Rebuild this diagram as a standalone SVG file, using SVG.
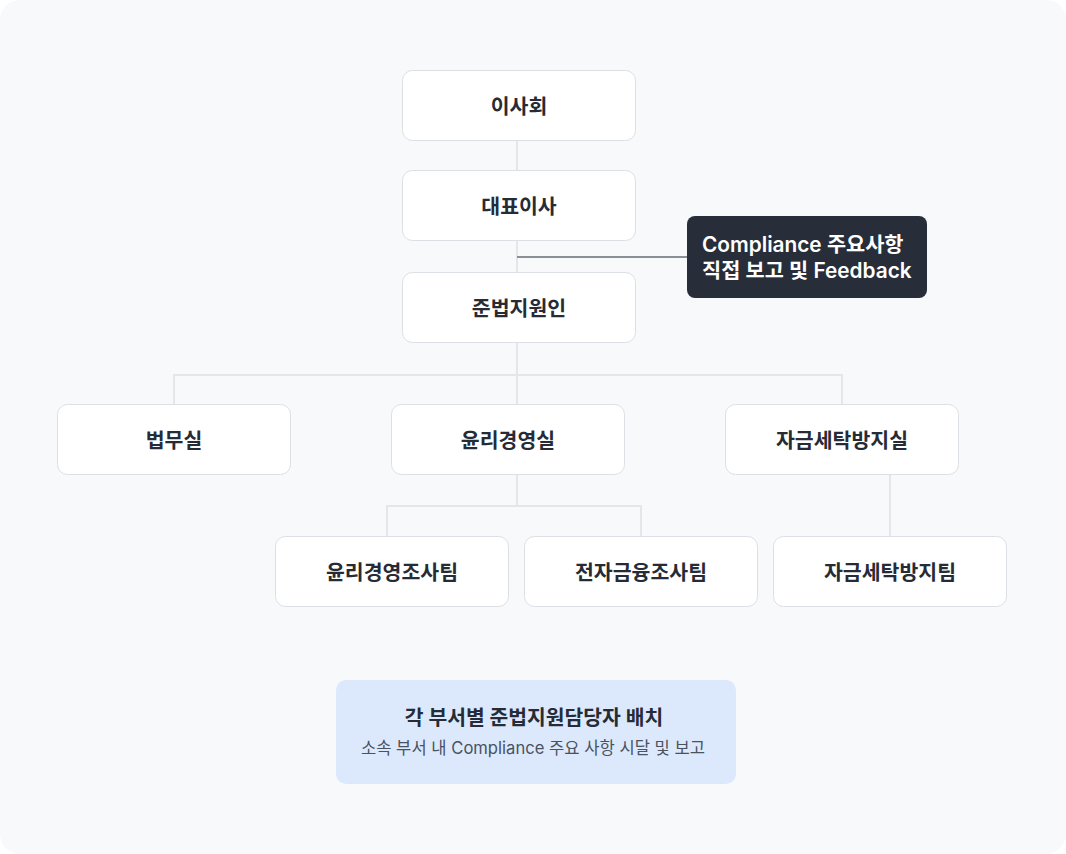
<svg xmlns="http://www.w3.org/2000/svg" width="1066" height="854" viewBox="0 0 1066 854">
<style>
.bg{fill:#f8f9fb}
.node rect{fill:#ffffff;stroke:#dcdfe4;stroke-width:1}
.node text{font-family:"Inter","Noto Sans CJK KR",sans-serif;font-size:20.5px;font-weight:600;fill:#262b35;text-anchor:middle;dominant-baseline:central}
.conn line,.conn polyline{fill:none;stroke:#e4e6ea;stroke-width:2}
.conn .strong{stroke:#8a8f98;stroke-width:2}
.callout rect{fill:#272d39}
.callout text{font-family:"Inter","Noto Sans CJK KR",sans-serif;font-size:20.8px;font-weight:600;fill:#ffffff}
.note rect{fill:#dce9fd}
.note .t{font-family:"Inter","Noto Sans CJK KR",sans-serif;font-size:20.4px;font-weight:700;fill:#262b35;text-anchor:middle;dominant-baseline:central}
.note .s{font-family:"Inter","Noto Sans CJK KR",sans-serif;font-size:16.6px;font-weight:400;fill:#4a5260;text-anchor:middle;dominant-baseline:central}
</style>
<rect width="1066" height="854" fill="#ffffff"/>
<rect class="bg" x="0" y="0" width="1066" height="854" rx="20"/>
<g id="connectors" class="conn">
<line x1="517" y1="141" x2="517" y2="171"/>
<line x1="517" y1="241" x2="517" y2="272"/>
<line x1="517" y1="343" x2="517" y2="404"/>
<polyline points="174,404 174,375 842,375 842,404"/>
<line x1="517" y1="475" x2="517" y2="506"/>
<polyline points="387,536 387,506 641,506 641,536"/>
<line x1="890" y1="475" x2="890" y2="536"/>
<line class="strong" x1="517" y1="257" x2="687" y2="257"/>
</g>
<g id="n-board" class="node"><rect x="402.5" y="70.5" width="233" height="70" rx="10"/><text x="519" y="106">이사회</text></g>
<g id="n-ceo" class="node"><rect x="402.5" y="170.5" width="233" height="70" rx="10"/><text x="519" y="206">대표이사</text></g>
<g id="n-compliance" class="node"><rect x="402.5" y="272.5" width="233" height="70" rx="10"/><text x="519" y="308">준법지원인</text></g>
<g id="n-legal" class="node"><rect x="57.5" y="404.5" width="233" height="70" rx="10"/><text x="174" y="440">법무실</text></g>
<g id="n-ethics" class="node"><rect x="391.5" y="404.5" width="233" height="70" rx="10"/><text x="508" y="440">윤리경영실</text></g>
<g id="n-aml" class="node"><rect x="725.5" y="404.5" width="233" height="70" rx="10"/><text x="842" y="440">자금세탁방지실</text></g>
<g id="n-ethics-team" class="node"><rect x="275.5" y="536.5" width="233" height="70" rx="10"/><text x="392" y="572">윤리경영조사팀</text></g>
<g id="n-efin-team" class="node"><rect x="524.5" y="536.5" width="233" height="70" rx="10"/><text x="641" y="572">전자금융조사팀</text></g>
<g id="n-aml-team" class="node"><rect x="773.5" y="536.5" width="233" height="70" rx="10"/><text x="890" y="572">자금세탁방지팀</text></g>
<g id="callout" class="callout"><rect x="687" y="216" width="240" height="82" rx="8"/><text x="702" y="252">Compliance 주요사항</text><text x="702" y="278">직접 보고 및 Feedback</text></g>
<g id="note" class="note"><rect x="336" y="680" width="400" height="104" rx="10"/><text class="t" x="534" y="717">각 부서별 준법지원담당자 배치</text><text class="s" x="533" y="748">소속 부서 내 Compliance 주요 사항 시달 및 보고</text></g>
</svg>
